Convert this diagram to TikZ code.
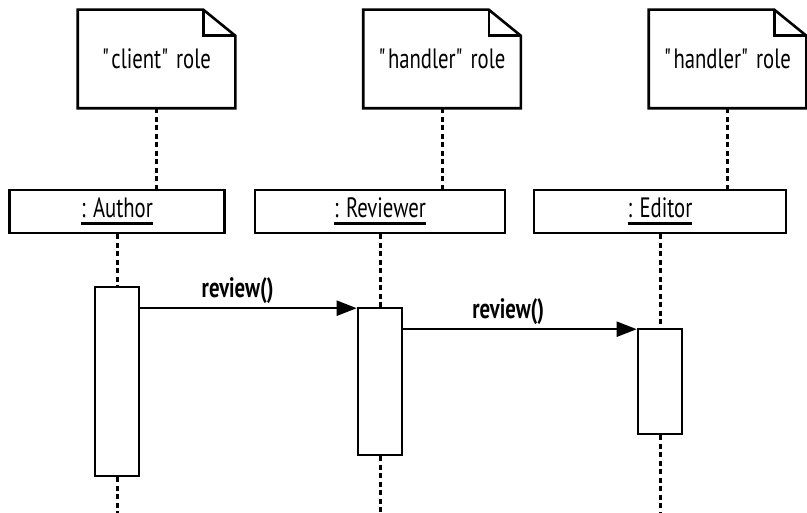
\documentclass[tikz,border=0pt]{standalone}
\usepackage{fontspec}
\setsansfont[FakeStretch=0.74]{PT Sans}
\usetikzlibrary{arrows.meta, positioning, calc}
\newcommand{\uname}[1]{\sbox0{#1}\rlap{\usebox0}\raisebox{-8pt}{\rule{\wd0}{3pt}}}

\begin{document}
\begin{tikzpicture}[
  x=1pt, y=-1pt, line width=2.6pt,
  font=\sffamily\fontsize{28}{32}\selectfont,
  note/.style={minimum width=155pt, minimum height=96pt, inner sep=0pt},
  obj/.style={draw, fill=white, minimum height=43pt, inner sep=0pt},
  act/.style={draw, fill=white, minimum width=44pt, inner sep=0pt},
  life/.style={dash pattern=on 5pt off 3.5pt, line width=3pt},
  msg/.style={-{Triangle[length=20pt,width=15pt]}, line width=2.2pt},
  lbl/.style={above=0pt, pos=0.45, font=\sffamily\bfseries\fontsize{28}{32}\selectfont},
]
\useasboundingbox (0,0) rectangle (807,513);
\coordinate (bottom) at (0,513);

% role notes
\node[note] (nClient)   at (156.5,59) {\textquotedbl client\textquotedbl{} role};
\node[note] (nHandlerA) at (442,59)   {\textquotedbl handler\textquotedbl{} role};
\node[note] (nHandlerB) at (727.5,59) {\textquotedbl handler\textquotedbl{} role};
\foreach \n in {nClient, nHandlerA, nHandlerB} {
  \draw (\n.north west) -- ([xshift=-32pt]\n.north east) -- ([yshift=-26pt]\n.north east)
        -- (\n.south east) -- (\n.south west) -- cycle;
  \draw ([xshift=-32pt]\n.north east) |- ([yshift=-26pt]\n.north east);
}

% objects
\node[obj, minimum width=215pt] (oAuthor)   at (117,211.5) {\uname{: Author}};
\node[obj, minimum width=250pt] (oReviewer) at (380,211.5) {\uname{: Reviewer}};
\node[obj, minimum width=252pt] (oEditor)   at (660,211.5) {\uname{: Editor}};

\draw[life] (nClient.south)   -- (nClient.south |- oAuthor.north);
\draw[life] (nHandlerA.south) -- (nHandlerA.south |- oReviewer.north);
\draw[life] (nHandlerB.south) -- (nHandlerB.south |- oEditor.north);

% activations
\node[act, minimum height=189pt] (aAuthor)   at (117,381.5) {};
\node[act, minimum height=147pt] (aReviewer) at (380,381.5) {};
\node[act, minimum height=105pt] (aEditor)   at (660,381.5) {};

\foreach \o/\a in {oAuthor/aAuthor, oReviewer/aReviewer, oEditor/aEditor} {
  \draw[life] (\o.south) -- (\a.north);
  \draw[life] (\a.south) -- (\a.south |- bottom);
}

% messages
\draw[msg] ([yshift=-1.5pt]aAuthor.east |- aReviewer.north)
  -- node[lbl]{review()} ([yshift=-1.5pt]aReviewer.north west);
\draw[msg] ([yshift=-1.5pt]aReviewer.east |- aEditor.north)
  -- node[lbl]{review()} ([yshift=-1.5pt]aEditor.north west);
\end{tikzpicture}
\end{document}
